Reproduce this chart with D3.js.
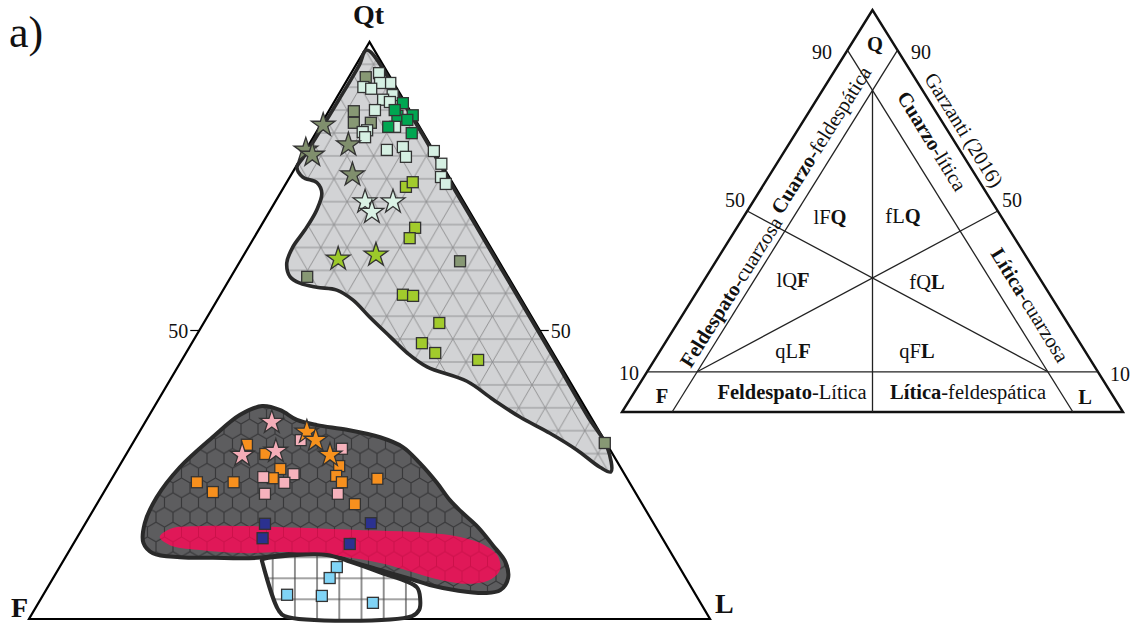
<!DOCTYPE html>
<html>
<head>
<meta charset="utf-8">
<script src="https://cdn.jsdelivr.net/npm/d3@7"></script>
<style>
  body { margin: 0; background: #fff; }
  svg { display: block; }
  text { font-family: "Liberation Serif", "Times New Roman", serif; fill: #111; }
</style>
</head>
<body>
<svg id="chart" width="1134" height="623"></svg>
<script>
// ---------- Sample compositions, [Qt, F, L] in percent ----------
const oliveSquares = [[93.9,3.6,2.5],[88.0,8.3,3.7],[86.0,9.3,4.7],[86.0,6.8,7.2],[62.0,5.7,32.3],[59.3,29.5,11.2],[30.5,0.2,69.3]];
const mintSquares = [[94.6,1.3,4.1],[92.9,0.5,6.6],[92.9,2.0,5.1],[92.2,4.8,3.0],[91.9,3.8,4.3],[90.8,1.2,8.0],[90.0,3.0,7.0],[89.6,2.2,8.2],[88.2,5.1,6.7],[85.3,3.6,11.1],[84.7,8.0,7.3],[84.4,8.8,6.8],[83.5,8.9,7.6],[81.3,6.8,11.9],[81.8,4.2,14.0],[80.1,4.6,15.3],[81.1,0.0,18.9],[78.9,0.0,21.1],[76.6,1.2,22.2],[75.4,1.1,23.5]];
const greenSquares = [[89.4,0.4,10.2],[87.3,0.0,12.7],[87.2,2.3,10.5],[86.5,1.2,12.3],[84.2,1.7,14.1],[85.3,4.6,10.1],[88.2,2.2,9.6]];
const limeSquares = [[74.9,7.2,17.9],[75.7,5.8,18.5],[67.8,9.4,22.8],[66.0,11.1,22.9],[56.2,17.0,26.8],[56.0,15.6,28.4],[51.3,14.1,34.6],[47.8,18.4,33.8],[46.1,17.3,36.6],[44.9,11.6,43.5]];
const pinkSquares = [[31.0,44.6,24.4],[29.5,39.3,31.2],[24.6,53.3,22.1],[25.1,48.6,26.3],[23.6,50.7,25.7],[21.7,54.5,23.8],[21.7,43.8,34.5]];
const orangeSquares = [[30.2,52.9,16.9],[28.6,51.0,20.4],[26.0,50.1,23.9],[24.4,52.0,23.6],[23.7,63.5,12.8],[23.7,58.1,18.2],[22.0,62.0,16.0],[26.5,41.2,32.3],[24.8,42.5,32.7],[23.7,42.2,34.1],[19.9,42.2,37.9],[24.3,36.7,39.0]];
const navySquares = [[16.5,57.1,26.4],[14.0,58.7,27.3],[16.6,41.5,41.9],[13.0,46.4,40.6]];
const skySquares = [[9.0,50.3,40.7],[7.1,52.3,40.6],[4.2,60.0,35.8],[4.0,55.0,41.0],[2.8,48.1,49.1]];

const oliveStars = [[85.6,14.0,0.4],[81.3,18.7,0.0],[80.4,18.2,1.4],[82.2,12.0,5.8],[77.0,14.0,9.0]];
const mintStars = [[72.3,14.5,13.2],[70.5,14.4,15.1],[72.3,10.4,17.3]];
const limeStars = [[62.4,23.4,14.2],[63.1,17.5,19.4]];
const pinkStars = [[34.1,47.3,18.6],[28.4,54.5,17.1],[29.1,49.2,21.7]];
const orangeStars = [[32.4,43.0,24.6],[31.0,42.4,26.6],[28.4,41.6,30.0]];

// ---------- Compositional fields, [Qt, F, L] outline vertices ----------
const quartzField = [[98.6,1.1,0.3],[90,0.3,9.7],[75,0.3,24.7],[60,0.3,39.7],[45,0.3,54.7],[35,0.4,64.6],[29.8,0.2,70.0],
  [25.5,1.8,72.7],[26.3,3.0,70.7],[29.3,4.9,65.8],[32.2,7.4,60.4],[35.0,10.4,54.6],[38.0,12.8,49.2],[41.2,15.1,43.7],
  [43.7,19.7,36.6],[46.1,21.4,32.5],[48.9,22.5,28.6],[52.3,23.8,23.9],[55.3,24.8,19.9],[57.0,26.3,16.7],[57.5,29.0,13.5],
  [58.2,31.1,10.7],[59.3,32.0,8.7],[61.7,31.3,7.0],[64.5,29.0,6.5],[67.4,25.8,6.8],[70.9,22.3,6.8],[73.8,20.1,6.1],
  [75.6,19.9,4.5],[76.6,21.5,1.9],[78.3,21.5,0.2],[80.0,19.7,0.3],[90,9.5,0.5],[96,3.5,0.5]];
const arkoseField = [[36.9,47.3,15.8],[36.2,45.0,18.8],[34.5,43.4,22.1],[33.6,40.9,25.5],[32.8,36.9,30.3],[31.5,32.7,35.8],
  [29.8,30.2,40.0],[27.0,29.1,43.9],[23.6,28.3,48.1],[20.6,27.9,51.5],[18.5,27.2,54.3],[15.9,26.1,58.0],[12.8,25.5,61.7],
  [9.9,25.1,65.0],[7.1,26.1,66.8],[5.0,28.3,66.7],[4.5,30.8,64.7],[4.9,34.5,60.6],[5.9,38.2,55.9],[6.8,40.2,53.0],
  [8.5,44.2,47.3],[10.2,48.2,41.6],[11.4,50.6,38.0],[11.4,55.0,33.6],[10.6,61.2,28.2],[10.6,67.7,21.7],[10.7,72.5,16.8],
  [11.4,76.1,12.5],[13.2,76.6,10.2],[16.6,74.7,8.7],[21.1,70.7,8.2],[26.3,64.7,9.0],[31.5,57.3,11.2],[35.4,51.3,13.3]];
const volcanicBand = [[14.2,73.7,12.1],[15.6,71.5,12.9],[16.1,66.9,17.0],[16.1,59.5,24.4],[15.8,52.3,31.9],[15.4,43.3,41.3],
  [15.1,36.0,48.9],[14.2,29.6,56.2],[12.8,26.7,60.5],[10.9,25.7,63.4],[8.5,26.6,64.9],[6.8,28.9,64.3],[6.1,32.2,61.7],
  [6.6,35.6,57.8],[7.6,38.4,54.0],[9.7,43.6,46.7],[11.1,50.2,38.7],[11.6,57.3,31.1],[11.4,62.3,26.3],[12.0,69.3,18.7],[12.8,72.9,14.3]];
const basementField = [[10.2,60.7,29.1],[11.1,55.1,33.8],[11.1,50.7,38.2],[10.1,48.2,41.7],[8.1,44.4,47.5],[5.5,40.3,54.2],
  [3.3,40.9,55.8],[1.6,41.9,56.5],[0.5,43.5,56.0],[0.5,62.2,37.3],[1.6,62.6,35.8],[9.9,60.8,29.3]];

// Garzanti (2016) classification boundaries, [Qt, F, L] end points
const classLines = [
  [[10,90,0],[10,0,90]],
  [[90,10,0],[0,10,90]],
  [[90,0,10],[0,90,10]],
  [[50,50,0],[10,10,80]],
  [[50,0,50],[10,80,10]],
  [[80,10,10],[0,50,50]]
];

const svg = d3.select('#chart');
const defs = svg.append('defs');

// ---------- Fill patterns ----------
const tri = defs.append('pattern').attr('id','triGrid').attr('patternUnits','userSpaceOnUse')
  .attr('width',26.4).attr('height',45.8).attr('y',18.5).attr('x',4);
tri.append('rect').attr('width',26.4).attr('height',45.8).attr('fill','#d2d3d5');
tri.append('path').attr('d','M0,0H26.4M0,22.9H26.4M0,45.8H26.4M0,0L26.4,45.8M26.4,0L0,45.8')
  .attr('stroke','#8a8a8c').attr('stroke-width',0.9).attr('fill','none');

function hexPattern(id, fill, stroke, sw) {
  const w = 17, r = w / Math.sqrt(3);
  const p = defs.append('pattern').attr('id',id).attr('patternUnits','userSpaceOnUse')
    .attr('width',w).attr('height',3*r).attr('x',3).attr('y',2);
  p.append('rect').attr('width',w).attr('height',3*r).attr('fill',fill);
  p.append('path')
    .attr('d',`M${w/2},0V${0.5*r}L${w},${r}V${2*r}L${w/2},${2.5*r}V${3*r}M${w/2},${2.5*r}L0,${2*r}V${r}L${w/2},${0.5*r}`)
    .attr('stroke',stroke).attr('stroke-width',sw).attr('fill','none');
}
hexPattern('hexGrid','#5d5d5f','#38383a',1.2);
hexPattern('hexPink','#e01858','rgba(150,0,40,0.28)',1);

const sq = defs.append('pattern').attr('id','sqGrid').attr('patternUnits','userSpaceOnUse')
  .attr('width',22.2).attr('height',21).attr('x',6.3).attr('y',11.3);
sq.append('rect').attr('width',22.2).attr('height',21).attr('fill','#fff');
sq.append('path').attr('d','M0,0V21M22.2,0V21M0,0H22.2M0,21H22.2')
  .attr('stroke','#4a4a4a').attr('stroke-width',1.2).attr('fill','none');

// ---------- Main QtFL diagram ----------
const mx = d3.scaleLinear().domain([0,100]).range([29,710]);
const my = d3.scaleLinear().domain([0,100]).range([619,42]);
const mp = d => [mx(d[2] + d[0]/2), my(d[0])];

const corners = [[100,0,0],[0,100,0],[0,0,100]];
svg.append('path').attr('d', d3.line()(corners.map(mp)) + 'Z')
  .attr('fill','none').attr('stroke','#000').attr('stroke-width',2.2).attr('stroke-linejoin','miter');

// 50 % ticks
[[50,50,0],[50,0,50]].forEach((t,i) => {
  const [x,y] = mp(t);
  const dir = i === 0 ? -1 : 1;
  svg.append('line').attr('x1',x).attr('y1',y).attr('x2',x + dir*9).attr('y2',y)
    .attr('stroke','#000').attr('stroke-width',1.2);
  svg.append('text').attr('x',x + dir*11).attr('y',y + 7)
    .attr('text-anchor', i === 0 ? 'end' : 'start').attr('font-size',20).text('50');
});

const area = d3.line().curve(d3.curveCatmullRomClosed.alpha(0.5));
const fieldStroke = '#2a2a2a';
svg.append('path').attr('d', area(quartzField.map(mp)))
  .attr('fill','url(#triGrid)').attr('stroke',fieldStroke).attr('stroke-width',3.6);
svg.append('path').attr('d', area(arkoseField.map(mp)))
  .attr('fill','url(#hexGrid)').attr('stroke',fieldStroke).attr('stroke-width',4);
svg.append('path').attr('d', area(volcanicBand.map(mp)))
  .attr('fill','url(#hexPink)').attr('stroke','none');
svg.append('path').attr('d', area(basementField.map(mp)))
  .attr('fill','url(#sqGrid)').attr('stroke',fieldStroke).attr('stroke-width',4);

// corner labels
svg.append('text').attr('x',mp(corners[0])[0]-1).attr('y',24).attr('text-anchor','middle')
  .attr('font-size',28).attr('font-weight','bold').text('Qt');
svg.append('text').attr('x',11).attr('y',617).attr('font-size',28).attr('font-weight','bold').text('F');
svg.append('text').attr('x',715).attr('y',613).attr('font-size',28).attr('font-weight','bold').text('L');
svg.append('text').attr('x',9).attr('y',47).attr('font-size',44).text('a)');

// ---------- Samples ----------
const side = 11;
function squares(data, color) {
  svg.append('g').selectAll('rect').data(data).join('rect')
    .attr('x', d => mp(d)[0] - side/2).attr('y', d => mp(d)[1] - side/2)
    .attr('width', side).attr('height', side)
    .attr('fill', color).attr('stroke','#333').attr('stroke-width',1.3);
}
const starShape = d3.symbol().type(d3.symbolStar).size(175);
function stars(data, color) {
  svg.append('g').selectAll('path').data(data).join('path')
    .attr('d', starShape)
    .attr('transform', d => `translate(${mp(d)[0]},${mp(d)[1]})`)
    .attr('fill', color).attr('stroke','#333').attr('stroke-width',1.3).attr('stroke-linejoin','miter');
}
squares(oliveSquares, '#879874');
squares(mintSquares, '#d6f0e3');
squares(greenSquares, '#00a651');
squares(limeSquares, '#a2cb2c');
stars(oliveStars, '#808f6d');
stars(mintStars, '#daf2e5');
stars(limeStars, '#9cc92a');
squares(orangeSquares, '#f7901e');
squares(pinkSquares, '#f6b2bc');
stars(pinkStars, '#f5adb8');
stars(orangeStars, '#f7921d');
squares(navySquares, '#2b3190');
squares(skySquares, '#80d4f6');

// ---------- Classification scheme (Garzanti, 2016) ----------
const sx = d3.scaleLinear().domain([0,100]).range([622,1123]);
const sy = d3.scaleLinear().domain([0,100]).range([412,10]);
const spt = d => [sx(d[2] + d[0]/2), sy(d[0])];

svg.append('path').attr('d', d3.line()(corners.map(spt)) + 'Z')
  .attr('fill','none').attr('stroke','#111').attr('stroke-width',2.4);
svg.append('g').selectAll('path').data(classLines).join('path')
  .attr('d', d => d3.line()(d.map(spt)))
  .attr('stroke','#222').attr('stroke-width',1.3).attr('fill','none');

const fs = 20.5;
function label(x, y, parts, rot, size) {
  const t = svg.append('text').attr('font-size', size || fs).attr('text-anchor','middle')
    .attr('dominant-baseline','central')
    .attr('transform', `translate(${x},${y})` + (rot ? ` rotate(${rot})` : ''));
  parts.forEach(([s, b]) => t.append('tspan').attr('font-weight', b ? 'bold' : 'normal').text(s));
}
label(875, 44, [['Q',1]]);
label(662, 396, [['F',1]]);
label(1085, 397, [['L',1]]);
label(792, 392, [['Feldespato',1],['-Lítica',0]]);
label(968, 392, [['Lítica',1],['-feldespática',0]]);
label(793, 351, [['qL',0],['F',1]]);
label(917, 351, [['qF',0],['L',1]]);
label(793, 280, [['lQ',0],['F',1]]);
label(927, 282, [['fQ',0],['L',1]]);
label(830, 217, [['lF',0],['Q',1]]);
label(903, 216, [['fL',0],['Q',1]]);
label(821, 140, [['Cuarzo',1],['-feldespática',0]], -57.8);
label(731, 292, [['Feldespato',1],['-cuarzosa',0]], -57.8);
label(932, 141, [['Cuarzo',1],['-lítica',0]], 58.3);
label(964, 130, [['Garzanti (2016)',0]], 58.3);
label(1030, 305, [['Lítica',1],['-cuarzosa',0]], 58.3);
label(822, 52, [['90',0]], 0, 20);
label(921, 52, [['90',0]], 0, 20);
label(735, 200, [['50',0]], 0, 20);
label(1012, 200, [['50',0]], 0, 20);
label(629, 373, [['10',0]], 0, 20);
label(1120, 374, [['10',0]], 0, 20);
</script>
</body>
</html>
